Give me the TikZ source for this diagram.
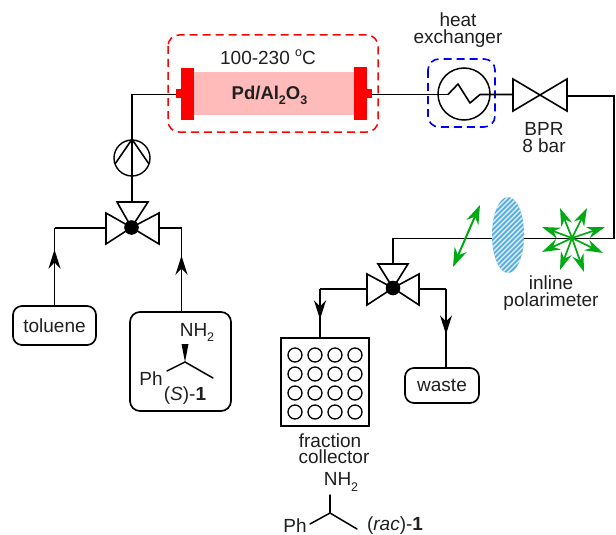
\documentclass[tikz,border=0pt]{standalone}
\usepackage{fontspec}
\setmainfont{Liberation Sans}
\usetikzlibrary{arrows.meta,decorations.markings,shapes.geometric}
\definecolor{heatred}{RGB}{255,0,0}
\definecolor{pinkbed}{RGB}{255,186,186}
\definecolor{greenray}{RGB}{0,170,20}
\definecolor{hatchblue}{RGB}{90,175,225}
\newcommand\lowidx[1]{\raisebox{-0.28em}{\fontsize{12.5}{12.5}\selectfont #1}}
\newcommand\highidx[1]{\raisebox{0.42em}{\fontsize{12.5}{12.5}\selectfont #1}}
\tikzset{
  pipe/.style={line width=1.9pt,line join=miter},
  thinline/.style={line width=1.6pt,line join=miter},
  lbl/.style={inner sep=0pt,font=\fontsize{19}{17}\selectfont,align=center,text=black!88},
  vessel/.style={draw,line width=1.7pt,rounded corners=9pt,inner sep=0pt,minimum height=#1},
  flowtip/.style={postaction={decorate},decoration={markings,mark=at position #1 with {\arrow{Stealth[length=19pt,width=12pt]}}}},
  ray/.style={draw=greenray,line width=1.7pt,-{Stealth[length=18pt,width=11.5pt]}},
  tworay/.style={draw=greenray,line width=2pt,{Stealth[length=19pt,width=13pt]}-{Stealth[length=19pt,width=13pt]}},
  bond/.style={line width=1.5pt,line cap=round},
}
\begin{document}
\begin{tikzpicture}[x=1pt,y=-1pt]
\useasboundingbox (0,0) rectangle (616,535);
\fill[white] (0,0) rectangle (616,535);

% reactor
\draw[heatred,line width=1.5pt,dash pattern=on 8pt off 5pt,rounded corners=11pt] (168,35) rectangle (378,132);
\fill[pinkbed] (194,72) rectangle (355,115);
\fill[heatred] (181,68) rectangle (194,120);
\fill[heatred] (354,67) rectangle (367,120);
\fill[heatred] (176,89) rectangle (181,98);
\fill[heatred] (367,89) rectangle (372,98);
\coordinate (rin) at (176,94.5);
\coordinate (rout) at (372,94.5);
\node[lbl] (temp) at (268,57) {100-230 \highidx{o}C};
\node[lbl,font=\fontsize{18.5}{17}\selectfont\bfseries] (cat) at (269.5,95) {Pd/Al\lowidx{2}O\lowidx{3}};

% heat exchanger
\draw[blue,line width=1.6pt,dash pattern=on 8pt off 5pt,rounded corners=11pt] (428,59) rectangle (495,127);
\node[draw,circle,line width=1.5pt,minimum size=52pt,inner sep=0pt] (hx) at (464,94) {};
\coordinate (hxa) at (448,94.5);
\coordinate (hxb) at (480,94.5);
\node[lbl] (hxlabel) at (458,30) {heat\\exchanger};

% BPR
\coordinate (bprl) at (513,94.5);
\coordinate (bprr) at (567,96);
\draw[thinline] (513,79) -- (513,111) -- (567,79) -- (567,111) -- cycle;
\node[lbl] (bprlabel) at (544,138) {BPR\\8 bar};

% pump
\node[draw,circle,line width=1.4pt,minimum size=36pt,inner sep=0pt] (pump) at (132,158) {};
\draw[thinline] (pump.north) -- (115,164);
\draw[thinline] (pump.north) -- (149,164);

% valve 1
\coordinate (v1) at (131.5,227.5);
\coordinate (v1t) at (132,202);
\coordinate (v1l) at (106,228);
\coordinate (v1r) at (159,228);
\draw[thinline] (117,202) -- (148,202) -- (v1) -- cycle;
\draw[thinline] (106,213) -- (106,244) -- (v1) -- cycle;
\draw[thinline] (159,213) -- (159,244) -- (v1) -- cycle;
\fill (v1) circle (7.3pt);

% valve 2
\coordinate (v2) at (393,288);
\coordinate (v2t) at (393,264);
\coordinate (v2l) at (367,289);
\coordinate (v2r) at (419,289);
\draw[thinline] (378,264) -- (408,264) -- (v2) -- cycle;
\draw[thinline] (367,274) -- (367,305) -- (v2) -- cycle;
\draw[thinline] (419,274) -- (419,305) -- (v2) -- cycle;
\fill (v2) circle (7.3pt);

% feed vessels
\node[vessel=39pt,minimum width=83pt,lbl] (tol) at (54.5,325.5) {toluene};
\draw[line width=1.7pt,rounded corners=10pt] (130,312) rectangle (231,411);
\coordinate (sm) at (181.5,312);
\node[lbl] (snh) at (197,332.5) {NH\lowidx{2}};
\node[lbl] (sph) at (151,379) {Ph};
\node[lbl] (scap) at (185,396) {(\textit{S})-\textbf{1}};
\coordinate (sc) at (185,362);
\fill (sc) -- (181.5,344) -- (188.5,344) -- cycle;
\draw[bond] (sc) -- (167,371);
\draw[bond] (sc) -- (213,378);

% collectors
\draw[line width=1.9pt] (281,338) rectangle (369,426);
\coordinate (fc) at (320,338);
\foreach \cx in {295,315,335,355}
  \foreach \cy in {355,374,393,412}
    \draw[line width=1.3pt] (\cx,\cy) circle (7pt);
\node[vessel=35pt,minimum width=74pt,lbl] (waste) at (442,385.5) {waste};
\node[lbl] (fr1) at (330,441) {fraction};
\node[lbl] (fr2) at (334,457) {collector};

% product
\node[lbl] (pnh) at (341,482) {NH\lowidx{2}};
\node[lbl] (pph) at (295,526) {Ph};
\node[lbl] (pcap) at (395,526) {(\textit{rac})-\textbf{1}};
\coordinate (pc) at (330,513);
\draw[bond] (330,495) -- (pc);
\draw[bond] (pc) -- (310,524);
\draw[bond] (pc) -- (357,529);

% polarimeter cell
\begin{scope}
  \clip (508,235) ellipse (16pt and 38pt);
  \fill[hatchblue] (490,195) rectangle (526,275);
  \foreach \k in {-40,-35,...,80}
    \draw[white!85!hatchblue,line width=1.3pt] (490,235+\k) -- (526,235+\k-36);
\end{scope}
\node[ellipse,minimum width=32pt,minimum height=76pt,inner sep=0pt] (cell) at (508,235) {};

% pipes
\coordinate (a1) at (132,94.5);
\draw[pipe] (rin) -- (a1) -- (pump.north);
\draw[pipe] (pump.north) -- (pump.south) -- (v1t);
\coordinate (a2) at (54.5,228);
\draw[pipe,flowtip=0.72] (tol.north) -- (a2);
\draw[pipe] (a2) -- (v1l);
\coordinate (a3) at (181.5,228);
\draw[pipe,flowtip=0.67] (sm) -- (a3);
\draw[pipe] (a3) -- (v1r);
\draw[pipe] (rout) -- (hxa);
\draw[thinline,line join=round] (hxa) -- (458,84) -- (470,103) -- (hxb) -- (bprl);
\coordinate (c1) at (614,96);
\coordinate (c2) at (614,238.5);
\coordinate (c3) at (393,238.5);
\draw[pipe] (bprr) -- (c1) -- (c2) -- (cell.east |- c2);
\draw[pipe] (cell.west |- c3) -- (c3) -- (v2t);
\coordinate (d1) at (320,289);
\draw[pipe,flowtip=0.62] (d1) -- (fc);
\draw[pipe] (v2l) -- (d1);
\coordinate (d2) at (446,289);
\draw[pipe,flowtip=0.58] (d2) -- (d2 |- waste.north);
\draw[pipe] (v2r) -- (d2);

% light rays
\coordinate (st) at (572,238);
\foreach \ex/\ey in {560/208,587/208,605/227,603/253,584/272,560/270,542/252,542/227}
  \draw[ray] (st) -- (\ex,\ey);
\coordinate (rya) at (480,205);
\coordinate (ryb) at (453,267);
\draw[tworay] (rya) -- (ryb);
\node[lbl] (pol) at (551,293) {inline\\polarimeter};
\end{tikzpicture}
\end{document}
